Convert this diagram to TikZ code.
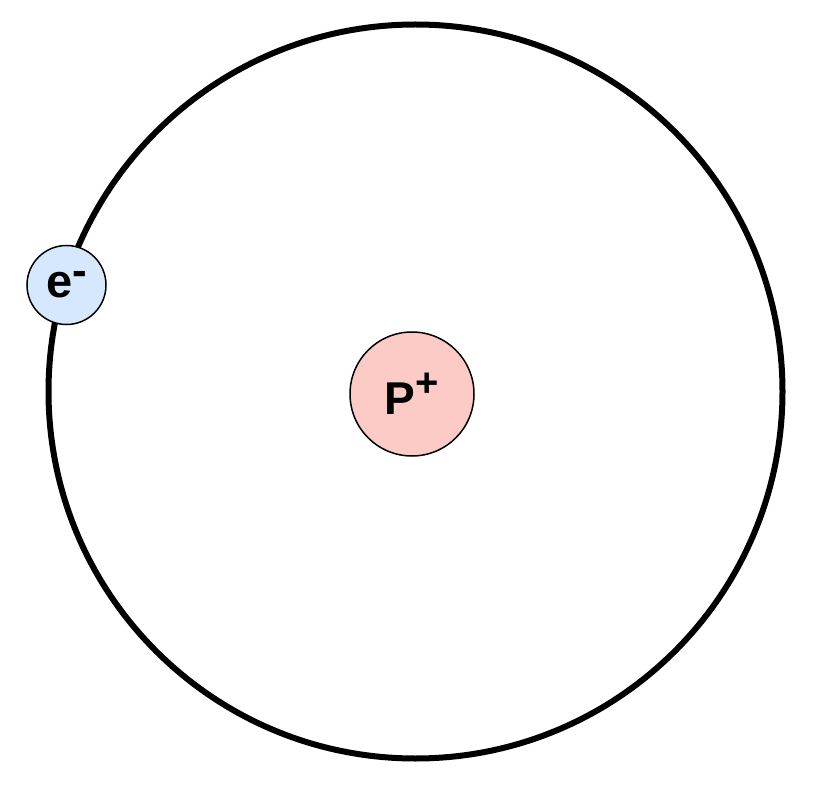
\documentclass[tikz,border=0pt]{standalone}
\usepackage{fontspec}
\setmainfont{Liberation Sans}
\usetikzlibrary{positioning}
\definecolor{protonred}{HTML}{FDCBC6}
\definecolor{electronblue}{HTML}{D6E8FD}

\begin{document}
\begin{tikzpicture}[x=1pt,y=-1pt,
	particle/.style={circle, draw=black, line width=1.5pt, inner sep=0pt, font=\bfseries}]
			\useasboundingbox (0,0) rectangle (814,786);
			\coordinate (O) at (415.5,391.5);
			\draw[line width=6pt] (O) circle (367);
			\node[particle, fill=protonred, minimum size=124pt] (p) at (412,394)
				{\fontsize{46}{46}\selectfont P\raisebox{18pt}{\fontsize{40}{40}\selectfont +}};
			\node[particle, fill=electronblue, minimum size=79pt] (e) at (66.5,285)
				{\fontsize{47}{47}\selectfont e\raisebox{12pt}{\fontsize{44}{44}\selectfont -}};
		\end{tikzpicture}
\end{document}
